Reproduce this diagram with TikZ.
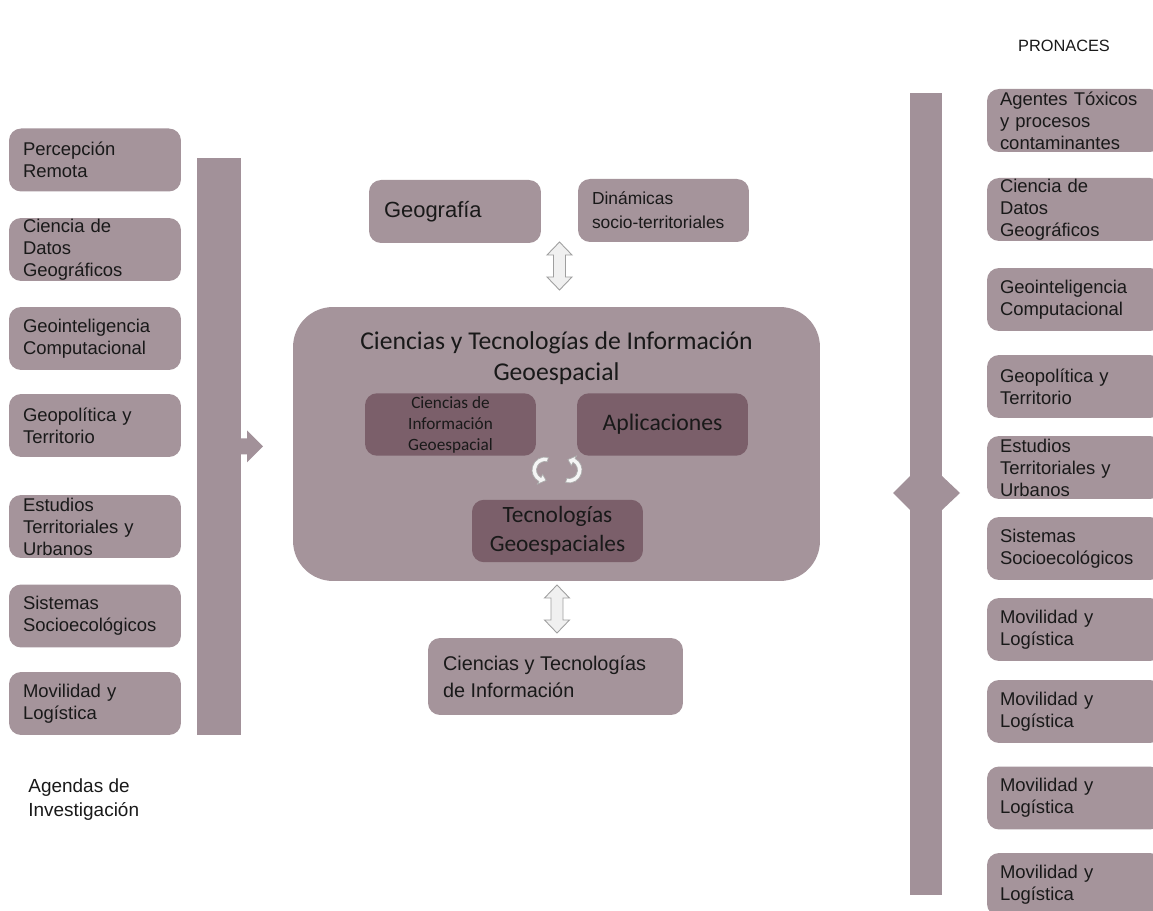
\documentclass[tikz,border=0pt]{standalone}
\usepackage{fontspec}
\setmainfont{Liberation Sans}
\newfontfamily\calibri{Carlito}
\usetikzlibrary{calc}
\definecolor{boxcol}{RGB}{165,148,155}
\definecolor{barcol}{RGB}{162,145,153}
\definecolor{darkcol}{RGB}{123,95,106}

\begin{document}
\begin{tikzpicture}
    [%%%%%%%%%%%%%%%%%%%%%%%%%%%%%%
        x=0.02cm,y=-0.02cm,
        box/.style={rectangle,rounded corners=0.24cm,fill=boxcol,inner sep=0pt,minimum width=3.44cm,minimum height=1.26cm},
        inbox/.style={box,fill=darkcol,minimum width=3.42cm,minimum height=1.25cm},
        txt/.style={inner sep=0pt,align=left,text width=2.88cm,text=black!90,font=\fontsize{10.5}{12.5}\selectfont},
        bar/.style={rectangle,fill=barcol,inner sep=0pt},
        udarrow/.style={draw=gray!75,fill=gray!12,line width=0.5pt},
        cycarrow/.style={draw=gray!65,fill=gray!8,line width=0.4pt},
        udarr/.pic={
            \filldraw[udarrow] (0,-24) -- (12.5,-11) -- (6,-11) -- (6,11) -- (12.5,11) -- (0,24)
                -- (-12.5,11) -- (-6,11) -- (-6,-11) -- (-12.5,-11) -- cycle;
        },
    ]%%%%%%%%%%%%%%%%%%%%%%%%%%%%%%

\clip (0,0) rectangle (1153,911);

% agendas de investigacion
\foreach \y/\t [count=\k] in {160/Percepción\\Remota, 249.5/Ciencia de\\Datos\\Geográficos,
    338.5/Geointeligencia\\Computacional, 425.5/Geopolítica y\\Territorio,
    526.5/Estudios\\Territoriales y\\Urbanos, 616/Sistemas\\Socioecológicos,
    703.5/Movilidad y\\Logística}{
    \node[box] (ag\k) at (95,\y) {};
    \node[txt] (agt\k) at (ag\k) {\t};
}

% pronaces
\foreach \y/\t [count=\k] in {120.5/Agentes Tóxicos\\y procesos\\contaminantes, 209.5/Ciencia de\\Datos\\Geográficos,
    299.5/Geointeligencia\\Computacional, 386.5/Geopolítica y\\Territorio,
    467.5/Estudios\\Territoriales y\\Urbanos, 548.5/Sistemas\\Socioecológicos,
    629.5/Movilidad y\\Logística, 711.5/Movilidad y\\Logística,
    798/Movilidad y\\Logística, 884.5/Movilidad y\\Logística}{
    \node[box, minimum width=3.5cm] (pr\k) at (1074.5,\y) {};
    \node[txt, text width=2.98cm] (prt\k) at (pr\k) {\t};
}

\node[bar, minimum width=0.88cm, minimum height=11.54cm] (lbar) at (219,446.5) {};
\fill[barcol, shift={(lbar.center)}] (20,-8) -- (28,-8) -- (28,-16) -- (44,0) -- (28,16) -- (28,8) -- (20,8) -- cycle;

\node[bar, minimum width=0.64cm, minimum height=16.04cm] (rbar) at (926,494) {};
\fill[barcol, shift={(rbar.center)}] (-33,-1) -- (-16,-18) -- (16,-18) -- (34,-1) -- (16,16) -- (-16,16) -- cycle;

\node[font=\fontsize{9.3}{11}\selectfont, text=black!90] (pron) at (1064,46) {PRONACES};
\node[anchor=west, align=left, inner sep=0pt, text=black!90, font=\fontsize{10.8}{13.7}\selectfont] (agen) at (28,800) {Agendas de\\Investigación};

% centro
\node[box] (geo) at (455,211.5) {};
\node[anchor=west, inner sep=0pt, text=black!90, font=\fontsize{12.5}{15}\selectfont] (geot) at ($(geo.west)+(15,0)$) {Geografía};
\node[box, minimum width=3.42cm, minimum height=1.26cm] (din) at (663.5,210.5) {};
\node[anchor=west, align=left, inner sep=0pt, text=black!90, font=\fontsize{9.9}{13.7}\selectfont] (dint) at ($(din.west)+(14,0)$) {Dinámicas\\socio-territoriales};

\node[box, minimum width=10.54cm, minimum height=5.48cm, rounded corners=0.8cm] (cti) at (556.5,444) {};
\node[align=center, inner sep=0pt, text=black!90, font=\calibri\fontsize{14.6}{17.4}\selectfont] (ctit) at (556.5,358) {Ciencias y Tecnologías de Información\\Geoespacial};

\node[inbox] (cig) at (450.5,424.5) {};
\node[align=center, inner sep=0pt, text=black!90, font=\calibri\fontsize{9.8}{12}\selectfont] (cigt) at (cig) {Ciencias de\\Información\\Geoespacial};
\node[inbox, text=black!90, font=\calibri\fontsize{13.5}{16}\selectfont] (apl) at (662.5,424.5) {Aplicaciones};
\node[inbox, align=center, text=black!90, font=\calibri\fontsize{13.3}{16.8}\selectfont] (tec) at (557.5,531) {Tecnologías\\Geoespaciales};

\foreach \cx/\rot in {545/0,569/180}{
    \begin{scope}[shift={(\cx,470)}, y=0.02cm, rotate=\rot]
        \filldraw[cycarrow] (75:13) arc[start angle=75,end angle=242,radius=13] -- (242:16) -- (276:10.5)
            -- (242:5) -- (242:8.5) arc[start angle=242,end angle=75,radius=8.5] -- cycle;
    \end{scope}
}

\node[box, minimum width=5.1cm, minimum height=1.54cm] (cinf) at (555.5,676.5) {};
\node[anchor=west, align=left, inner sep=0pt, text=black!90, font=\fontsize{11.3}{15.4}\selectfont] (cinft) at ($(cinf.west)+(15,0)$) {Ciencias y Tecnologías\\de Información};

\pic (ar1) at (559.5,266) {udarr};
\pic (ar2) at (557,609) {udarr};
\end{tikzpicture}
\end{document}
